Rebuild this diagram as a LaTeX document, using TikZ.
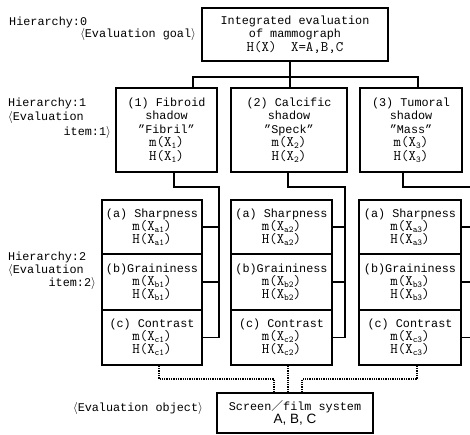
\documentclass[tikz,border=0pt]{standalone}
\usepackage{fontspec}
\setmainfont{Liberation Mono}
\newfontfamily\cjk{Noto Sans CJK JP}
\newfontfamily\abcfont{Liberation Sans}
\usetikzlibrary{calc}
\newcommand{\lowsub}[1]{\raisebox{-2pt}{\fontsize{9}{9}\selectfont #1}}
\newcommand{\mx}[1]{{\ttfamily\fontsize{14.5}{13}\selectfont #1}}
\begin{document}
\begin{tikzpicture}[x=1pt,y=-1pt,
  box/.style={draw, line width=1.4pt, inner sep=0pt, align=center, font=\fontsize{11.8}{13.5}\selectfont},
  boxs/.style={box, font=\fontsize{11.8}{13}\selectfont},
  lab/.style={inner sep=0pt, font=\fontsize{11.8}{13.5}\selectfont},
  link/.style={line width=1.4pt},
  dotlink/.style={densely dotted, line width=1.3pt}]
\useasboundingbox (0,0) rectangle (470,435);
\clip (0,0) rectangle (470,435);

% level 0
\node[box, minimum width=186pt, minimum height=53pt] (top) at (295,34.5)
  {Integrated evaluation\\of mammograph\\\mx{H(X)\quad X=A,B,C}};

% level 1
\node[box, minimum width=101pt, minimum height=84pt] (f1) at (166.5,130)
  {(1) Fibroid\\shadow\\"Fibril"\\\mx{m(X\lowsub{1})}\\\mx{H(X\lowsub{1})}};
\node[box, minimum width=116pt, minimum height=84pt] (f2) at (289,130)
  {(2) Calcific\\shadow\\"Speck"\\\mx{m(X\lowsub{2})}\\\mx{H(X\lowsub{2})}};
\node[box, minimum width=102pt, minimum height=84pt] (f3) at (411,130)
  {(3) Tumoral\\shadow\\"Mass"\\\mx{m(X\lowsub{3})}\\\mx{H(X\lowsub{3})}};

% level 2
\foreach \i/\x/\w in {1/152/100, 2/281.5/101, 3/410/102}{
  \node[boxs, minimum width=\w pt, minimum height=54pt] (s\i) at (\x,227)
    {(a) Sharpness\\\mx{m(X\lowsub{a\i})}\\\mx{H(X\lowsub{a\i})}};
  \node[boxs, minimum width=\w pt, minimum height=56pt] (g\i) at (\x,282)
    {(b)Graininess\\\mx{m(X\lowsub{b\i})}\\\mx{H(X\lowsub{b\i})}};
  \node[boxs, minimum width=\w pt, minimum height=55pt] (c\i) at (\x,337.5)
    {(c) Contrast\\\mx{m(X\lowsub{c\i})}\\\mx{H(X\lowsub{c\i})}};
}

% evaluation object
\node[box, minimum width=156pt, minimum height=40pt, font=\fontsize{11.8}{12.5}\selectfont] (obj) at (295,413)
  {Screen{\cjk ／}film system\\{\abcfont\fontsize{13.5}{12.5}\selectfont A, B, C}};

% labels
\node[lab, anchor=west] (h0) at (9,22) {Hierarchy:0};
\node[lab, anchor=east] (goal) at (196,35) {$\langle$Evaluation goal$\rangle$};
\node[lab, anchor=west] (h1) at (8,103) {Hierarchy:1};
\node[lab, anchor=west] (ev1) at (8,118) {$\langle$Evaluation};
\node[lab, anchor=east] (it1) at (111,133) {item:1$\rangle$};
\node[lab, anchor=west] (h2) at (8,257) {Hierarchy:2};
\node[lab, anchor=west] (ev2) at (8,270) {$\langle$Evaluation};
\node[lab, anchor=east] (it2) at (96,283) {item:2$\rangle$};
\node[lab, anchor=east] (objl) at (203,408) {$\langle$Evaluation object$\rangle$};

% tree connectors
\coordinate (bus2) at (290,77);
\coordinate (busL) at (193,77);
\coordinate (busR) at (418,77);
\draw[link] (top.south -| bus2) -- (bus2 |- f2.north);
\draw[link] (busL |- f1.north) -- (busL) -- (busR) -- (busR |- f3.north);

\coordinate (j1) at (174,187); \coordinate (r1) at (219,187);
\coordinate (j2) at (288,187); \coordinate (r2) at (345,187);
\coordinate (j3) at (403,187); \coordinate (r3) at (474,187);
\foreach \i in {1,2,3}{
  \draw[link] (f\i.south -| j\i) -- (j\i) -- (r\i) -- (r\i |- c\i.east);
  \foreach \n in {s,g,c} \draw[link] (\n\i.east) -- (\n\i.east -| r\i);
}

% dotted links
\coordinate (d1) at (159,379); \coordinate (e1) at (274,379);
\coordinate (m2) at (288,379);
\coordinate (d3) at (417,379); \coordinate (e3) at (302,379);
\draw[dotlink] (c1.south -| d1) -- (d1) -- (e1) -- (e1 |- obj.north);
\draw[dotlink] (c2.south -| m2) -- (m2 |- obj.north);
\draw[dotlink] (c3.south -| d3) -- (d3) -- (e3) -- (e3 |- obj.north);
\end{tikzpicture}
\end{document}
